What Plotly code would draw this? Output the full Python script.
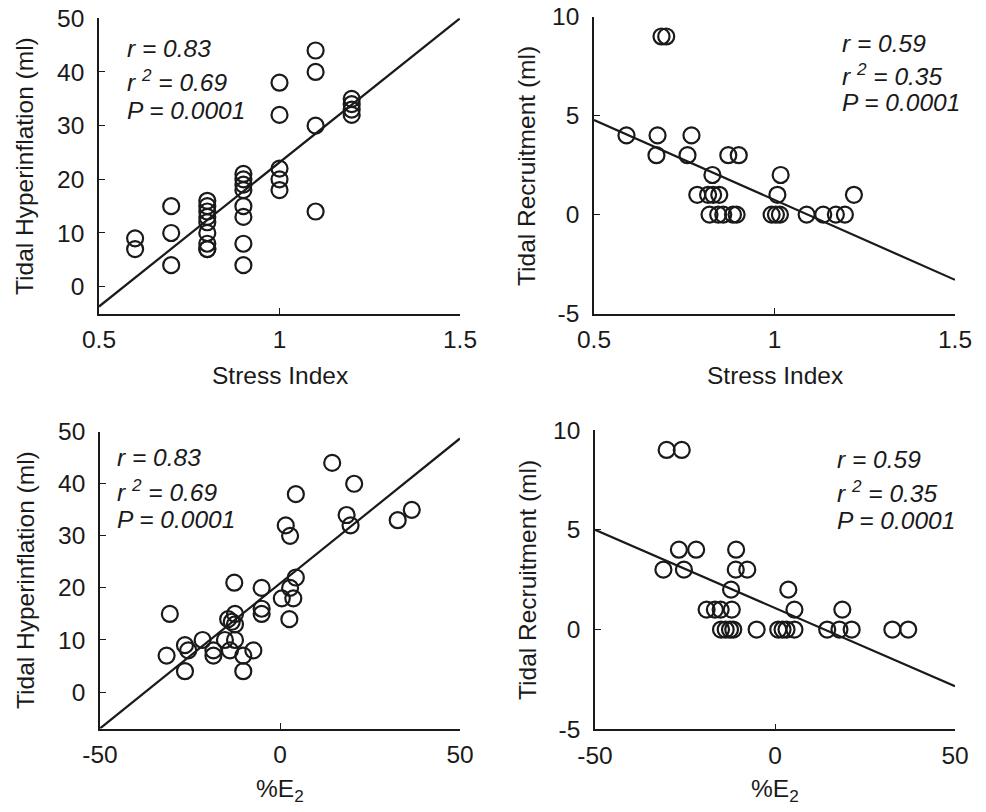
import plotly.graph_objects as go

# ---------------- data ----------------
# Panel A: Stress Index vs Tidal Hyperinflation
si_hyp_x = [0.6, 0.6,
            0.7, 0.7, 0.7,
            0.8, 0.8, 0.8, 0.8, 0.8, 0.8, 0.8, 0.8, 0.8,
            0.9, 0.9, 0.9, 0.9, 0.9, 0.9, 0.9, 0.9,
            1.0, 1.0, 1.0, 1.0, 1.0,
            1.1, 1.1, 1.1, 1.1,
            1.2, 1.2, 1.2, 1.2]
si_hyp_y = [9, 7,
            15, 10, 4,
            16, 15, 14, 13, 12, 10, 8, 7, 7,
            21, 20, 19, 18, 15, 13, 8, 4,
            38, 32, 22, 20, 18,
            44, 40, 30, 14,
            35, 34, 33, 32]
si_hyp_fit_x = [0.5, 1.5]
si_hyp_fit_y = [-3.7, 50.0]

# Panel B: Stress Index vs Tidal Recruitment
si_rec_x = [0.687, 0.700, 0.59, 0.676, 0.673, 0.77, 0.759, 0.872, 0.901, 0.828,
            0.786, 0.816, 0.83, 0.847,
            0.82, 0.844, 0.858, 0.885, 0.895, 0.992, 1.004, 1.015,
            1.089, 1.135, 1.17, 1.195,
            1.008, 1.017, 1.22]
si_rec_y = [9, 9, 4, 4, 3, 4, 3, 3, 3, 2,
            1, 1, 1, 1,
            0, 0, 0, 0, 0, 0, 0, 0,
            0, 0, 0, 0,
            1, 2, 1]
si_rec_fit_x = [0.5, 1.5]
si_rec_fit_y = [4.78, -3.3]

# Panel C: %E2 vs Tidal Hyperinflation
e2_hyp_x = [14.5, 20.6, 4.4, 18.5, 19.6, 32.7, 36.6, 1.6, 2.8, 4.4,
            2.8, 0.5, 3.7, 2.6, -5.1, -5.1, -5.1, -12.7, -30.6, -12.5,
            -14.4, -13.4, -12.5, -21.5, -15.3, -12.5, -26.4, -25.5, -18.5, -18.5,
            -13.9, -7.4, -10.2, -31.5, -26.4, -10.2]
e2_hyp_y = [44, 40, 38, 34, 32, 33, 35, 32, 30, 22,
            20, 18, 18, 14, 20, 16, 15, 21, 15, 15,
            14, 13.5, 13, 10, 10, 10, 9, 8, 8, 7,
            8, 8, 7, 7, 4, 4]
e2_hyp_fit_x = [-50, 50]
e2_hyp_fit_y = [-7.0, 48.7]

# Panel D: %E2 vs Tidal Recruitment
e2_rec_x = [-30.1, -25.9, -31.0, -26.7, -25.3, -21.9, -10.8, -10.9, -7.7, -12.2,
            3.7, -19.0, -16.7, -15.1, -12.0, 5.4, 18.7,
            -15.0, -13.7, -12.5, -11.6, -5.1, 0.9, 2.1, 3.2, 5.4,
            14.5, 17.9, 21.3, 32.6, 37.0]
e2_rec_y = [9, 9, 3, 4, 3, 4, 4, 3, 3, 2,
            2, 1, 1, 1, 1, 1, 1,
            0, 0, 0, 0, 0, 0, 0, 0, 0,
            0, 0, 0, 0, 0]
e2_rec_fit_x = [-50, 50]
e2_rec_fit_y = [5.0, -2.84]

stats_hyp = ["r = 0.83", "r <sup>2</sup> = 0.69", "P = 0.0001"]
stats_rec = ["r = 0.59", "r <sup>2</sup> = 0.35", "P = 0.0001"]

si_ticks = [0.5, 1, 1.5]
si_ticktext = ["0.5", "1", "1.5"]
e2_ticks = [-50, 0, 50]
e2_ticktext = ["-50", "0", "50"]
hyp_ticks = [0, 10, 20, 30, 40, 50]
hyp_ticktext = ["0", "10", "20", "30", "40", "50"]
rec_ticks = [-5, 0, 5, 10]
rec_ticktext = ["-5", "0", "5", "10"]

# ---------------- figure ----------------
# The page body has an 8px default margin, so the figure is drawn 8px smaller
# and all page-pixel positions are shifted by that offset.
PW, PH = 986, 812
OFF = 8
W, H = PW - OFF, PH - OFF
FONT = "Liberation Sans, Arial, Helvetica, sans-serif"
FS = 24.5
INK = "#1a1a1a"

fig = go.Figure()

panels = [
    (si_hyp_x, si_hyp_y, si_hyp_fit_x, si_hyp_fit_y, "x", "y"),
    (si_rec_x, si_rec_y, si_rec_fit_x, si_rec_fit_y, "x2", "y2"),
    (e2_hyp_x, e2_hyp_y, e2_hyp_fit_x, e2_hyp_fit_y, "x3", "y3"),
    (e2_rec_x, e2_rec_y, e2_rec_fit_x, e2_rec_fit_y, "x4", "y4"),
]
for px_, py_, fx, fy, xa, ya in panels:
    fig.add_trace(go.Scatter(x=fx, y=fy, mode="lines", xaxis=xa, yaxis=ya,
                             line=dict(color=INK, width=2.2), showlegend=False,
                             cliponaxis=False))
    fig.add_trace(go.Scatter(x=px_, y=py_, mode="markers", xaxis=xa, yaxis=ya,
                             marker=dict(symbol="circle-open", size=16,
                                         color=INK, line=dict(width=2.2, color=INK)),
                             showlegend=False))


def ax(domain, rng, tickvals, ticktext, anchor, standoff):
    return dict(domain=domain, range=rng, tickvals=tickvals, ticktext=ticktext,
                showline=True, linecolor=INK, linewidth=1.6, ticks="inside",
                ticklen=6, tickwidth=1.2, tickcolor=INK, showgrid=False,
                zeroline=False, tickfont=dict(family=FONT, size=FS, color=INK),
                anchor=anchor, ticklabelstandoff=standoff, automargin=False,
                ticklabeloverflow="allow", fixedrange=True)


def px2x(p):
    return (p - OFF) / W


def px2y(p):
    return 1 - (p - OFF) / H


def xd(a, b):
    return [px2x(a), px2x(b)]


def yd(top, bottom):
    return [px2y(bottom), px2y(top)]


fig.update_layout(
    width=W, height=H,
    margin=dict(l=0, r=0, t=0, b=0, autoexpand=False),
    paper_bgcolor="white", plot_bgcolor="white",
    font=dict(family=FONT, size=FS, color=INK),
    xaxis=ax(xd(99, 460), [0.5, 1.5], si_ticks, si_ticktext, "y", 3),
    yaxis=ax(yd(18.3, 313.5), [-5, 50], hyp_ticks, hyp_ticktext, "x", 8),
    xaxis2=ax(xd(594, 955), [0.5, 1.5], si_ticks, si_ticktext, "y2", 3),
    yaxis2=ax(yd(16.7, 313.5), [-5, 10], rec_ticks, rec_ticktext, "x2", 8),
    xaxis3=ax(xd(100, 460), [-50, 50], e2_ticks, e2_ticktext, "y3", 3),
    yaxis3=ax(yd(431.7, 728.5), [-7, 50], hyp_ticks, hyp_ticktext, "x3", 8),
    xaxis4=ax(xd(595, 955), [-50, 50], e2_ticks, e2_ticktext, "y4", 3),
    yaxis4=ax(yd(430, 729.3), [-5, 10], rec_ticks, rec_ticktext, "x4", 8),
)


def ann(text, x, y, xanchor="center", yanchor="middle", angle=0, italic=False):
    if italic:
        text = "<i>" + text + "</i>"
    fig.add_annotation(text=text, x=px2x(x), y=px2y(y), xref="paper", yref="paper",
                       xanchor=xanchor, yanchor=yanchor, textangle=angle,
                       showarrow=False, font=dict(family=FONT, size=FS, color=INK))


# axis titles
ann("Stress Index", 280, 375)
ann("Stress Index", 775, 375)
ann("%E<sub>2</sub>", 280, 773, yanchor="top")
ann("%E<sub>2</sub>", 775, 773, yanchor="top")
ann("Tidal Hyperinflation (ml)", 25, 166, angle=-90)
ann("Tidal Recruitment (ml)", 527, 166, angle=-90)
ann("Tidal Hyperinflation (ml)", 25, 580, angle=-90)
ann("Tidal Recruitment (ml)", 527, 580, angle=-90)

# statistics text
for (x0, ys, txts) in [(125, [48, 80, 110], stats_hyp),
                       (840, [43, 74, 103], stats_rec),
                       (115, [457, 490, 519], stats_hyp),
                       (835, [459, 491, 520], stats_rec)]:
    for yy, t in zip(ys, txts):
        ann(t, x0, yy, xanchor="left", italic=True)

fig.write_html("out.html")
